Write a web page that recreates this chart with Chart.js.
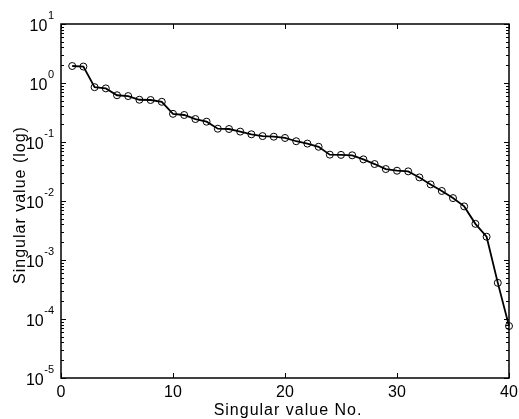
<!DOCTYPE html>
<html>
<head>
<meta charset="utf-8">
<script src="https://cdn.jsdelivr.net/npm/chart.js@4"></script>
<style>
  html, body { margin: 0; padding: 0; background: #fff; }
  #wrap { width: 519px; height: 419px; }
</style>
</head>
<body>
<div id="wrap"><canvas id="svChart" width="519" height="419"></canvas></div>
<script>
// singular values
const indices = [1, 2, 3, 4, 5, 6, 7, 8, 9, 10, 11, 12, 13, 14, 15, 16, 17, 18, 19, 20,
                 21, 22, 23, 24, 25, 26, 27, 28, 29, 30, 31, 32, 33, 34, 35, 36, 37, 38, 39, 40];
const singularValues = [1.94, 1.90, 0.85, 0.81, 0.62, 0.60, 0.52, 0.515, 0.48, 0.30,
                        0.287, 0.245, 0.221, 0.168, 0.166, 0.150, 0.135, 0.126, 0.123, 0.117,
                        0.103, 0.094, 0.083, 0.061, 0.0605, 0.0595, 0.0508, 0.0423, 0.0348, 0.0326,
                        0.0318, 0.0251, 0.0191, 0.0148, 0.0112, 0.0081, 0.0041, 0.00248, 0.00041, 0.000076];
const xTicks = [0, 10, 20, 30, 40];
const yExponents = [1, 0, -1, -2, -3, -4, -5];
const xTitle = 'Singular value No.';
const yTitle = 'Singular value (log)';

const FONT = '"Liberation Sans", Arial, sans-serif';

// matlab-like box with inward ticks + labels with superscript exponents
const matlabAxes = {
    id: 'matlabAxes',
    beforeDatasetsDraw(chart) {
        const { ctx, chartArea: a, scales: { x, y } } = chart;
        ctx.save();
        ctx.strokeStyle = '#000';
        ctx.lineWidth = 1;
        ctx.beginPath();
        xTicks.forEach(v => {
            const px = Math.round(x.getPixelForValue(v)) + 0.5;
            ctx.moveTo(px, a.bottom); ctx.lineTo(px, a.bottom - 5);
            ctx.moveTo(px, a.top); ctx.lineTo(px, a.top + 5);
        });
        const lo = Math.min(...yExponents), hi = Math.max(...yExponents);
        for (let e = lo; e <= hi; e++) {
            for (let m = 1; m <= 9; m++) {
                if (e === hi && m > 1) break;
                const py = Math.round(y.getPixelForValue(m * Math.pow(10, e))) + 0.5;
                const len = m === 1 ? 5 : 3;
                ctx.moveTo(a.left, py); ctx.lineTo(a.left + len, py);
                ctx.moveTo(a.right, py); ctx.lineTo(a.right - len, py);
            }
        }
        ctx.stroke();
        ctx.lineWidth = 1.5;
        ctx.strokeRect(a.left, a.top, a.right - a.left, a.bottom - a.top);
        ctx.restore();
    },
    afterDraw(chart) {
        const { ctx, chartArea: a, scales: { x, y } } = chart;
        ctx.save();
        ctx.fillStyle = '#000';
        ctx.textBaseline = 'alphabetic';

        ctx.font = '16px ' + FONT;
        ctx.textAlign = 'center';
        xTicks.forEach(v => ctx.fillText(String(v), x.getPixelForValue(v), a.bottom + 19));

        const right = a.left - 7;
        yExponents.forEach(e => {
            const py = y.getPixelForValue(Math.pow(10, e));
            const exp = String(e);
            ctx.font = '11px ' + FONT;
            ctx.textAlign = 'right';
            const ew = ctx.measureText(exp).width;
            ctx.fillText(exp, right, py - 5);
            ctx.font = '16px ' + FONT;
            ctx.fillText('10', right - ew - 0.5, py + 7);
        });

        ctx.font = '16px ' + FONT;
        ctx.letterSpacing = '1px';
        ctx.textAlign = 'center';
        ctx.fillText(xTitle, (a.left + a.right) / 2 + 3, a.bottom + 37);

        ctx.translate(25, (a.top + a.bottom) / 2 + 4);
        ctx.rotate(-Math.PI / 2);
        ctx.fillText(yTitle, 0, 0);
        ctx.restore();
    }
};

new Chart(document.getElementById('svChart'), {
    type: 'line',
    data: {
        datasets: [{
            data: indices.map((n, i) => ({ x: n, y: singularValues[i] })),
            borderColor: '#000',
            borderWidth: 1.8,
            pointRadius: 3.5,
            pointBorderWidth: 1,
            pointBorderColor: '#000',
            pointBackgroundColor: 'rgba(0,0,0,0)',
            tension: 0,
            clip: false
        }]
    },
    options: {
        responsive: false,
        animation: false,
        devicePixelRatio: 1,
        layout: { padding: { top: 24, right: 10, left: 0, bottom: 0 } },
        plugins: { legend: { display: false }, tooltip: { enabled: false } },
        scales: {
            x: {
                type: 'linear', min: 0, max: 40,
                ticks: { display: false, stepSize: 10 },
                grid: { display: false }, border: { display: false },
                afterFit: s => { s.height = 41; }
            },
            y: {
                type: 'logarithmic', min: 1e-5, max: 10,
                ticks: { display: false },
                grid: { display: false }, border: { display: false },
                afterFit: s => { s.width = 61; }
            }
        }
    },
    plugins: [matlabAxes]
});
</script>
</body>
</html>
